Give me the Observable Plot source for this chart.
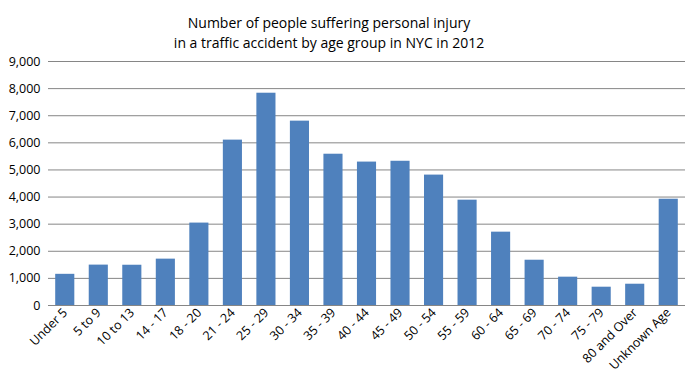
<!DOCTYPE html>
<html>
<head>
<meta charset="utf-8">
<script src="https://cdn.jsdelivr.net/npm/d3@7"></script>
<script src="https://cdn.jsdelivr.net/npm/@observablehq/plot@0.6"></script>
<style>
  html, body { margin: 0; padding: 0; background: #fff; }
  #wrap { position: relative; width: 689px; height: 384px; overflow: hidden; font-family: "Open Sans", sans-serif; }
  #title { position: absolute; left: 0; top: 13px; width: 658px; text-align: center; font-size: 14px; line-height: 20px; color: #000; }
  #chart { position: absolute; left: 0; top: 52px; }
</style>
</head>
<body>
<div id="wrap">
  <div id="title">Number of people suffering personal injury<br>in a traffic accident by age group in NYC in 2012</div>
  <div id="chart"></div>
</div>
<script>
const ageGroups = ["Under 5", "5 to 9", "10 to 13", "14 - 17", "18 - 20", "21 - 24", "25 - 29", "30 - 34", "35 - 39", "40 - 44", "45 - 49", "50 - 54", "55 - 59", "60 - 64", "65 - 69", "70 - 74", "75 - 79", "80 and Over", "Unknown Age"];
const injured = [1150, 1490, 1485, 1710, 3040, 6100, 7830, 6800, 5580, 5290, 5320, 4810, 3885, 2705, 1670, 1045, 675, 785, 3920];
const yTicks = [0, 1000, 2000, 3000, 4000, 5000, 6000, 7000, 8000, 9000];

const data = ageGroups.map((g, i) => ({group: g, value: injured[i]}));
const fmt = d3.format(",");

const chart = Plot.plot({
  width: 689,
  height: 332,
  marginTop: 9,
  marginBottom: 79,
  marginLeft: 48,
  marginRight: 4,
  style: {fontFamily: "Open Sans, sans-serif", fontSize: "12.5px", color: "#000", background: "transparent"},
  x: {domain: ageGroups, paddingInner: 0.43, paddingOuter: 0.215, round: false, label: null, tickSize: 0, tickPadding: 5, tickRotate: -45},
  y: {domain: [0, 9000], ticks: yTicks, tickFormat: fmt, label: null, tickSize: 0, tickPadding: 8},
  marks: [
    Plot.gridY(yTicks, {stroke: "#868686", strokeOpacity: 1, strokeWidth: 1}),
    Plot.barY(data, {x: "group", y: "value", fill: "#4f81bd"}),
    Plot.ruleY([0], {stroke: "#868686", strokeWidth: 1})
  ]
});
document.getElementById("chart").appendChild(chart);
</script>
</body>
</html>
